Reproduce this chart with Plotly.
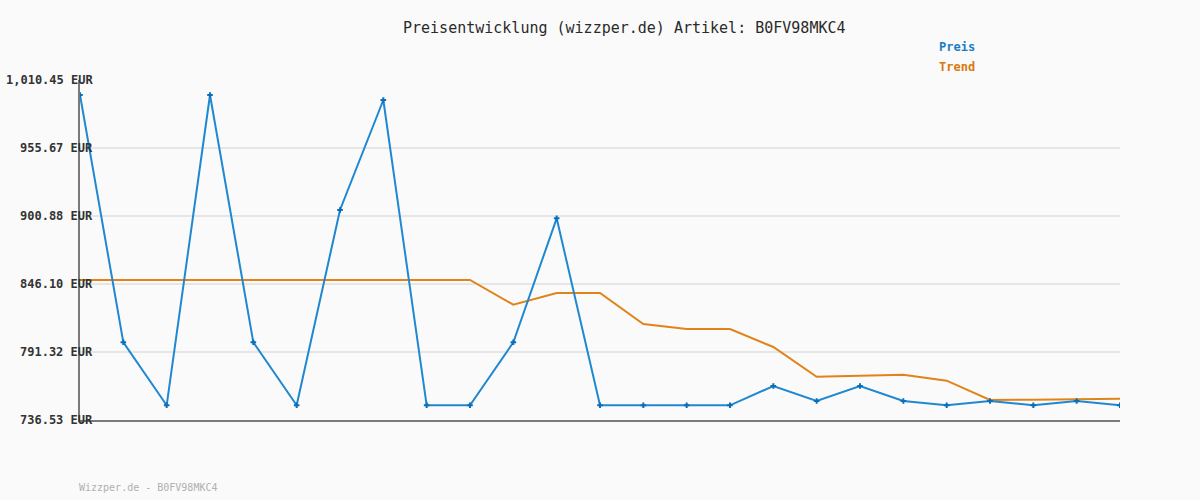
import plotly.graph_objects as go

x_idx = list(range(25))
preis = [998.37, 799.13, 748.37, 998.37, 799.13, 748.37, 905.72, 994.34, 748.37, 748.37,
         799.13, 899.03, 748.37, 748.37, 748.37, 748.37, 763.92, 751.84, 763.92, 751.84,
         748.37, 751.84, 748.37, 751.84, 748.37]
trend = [849.32, 849.32, 849.32, 849.32, 849.32, 849.32, 849.32, 849.32, 849.32, 849.32,
         829.42, 838.85, 838.85, 813.87, 809.84, 809.84, 795.34, 771.41, 772.22, 773.02,
         768.19, 752.64, 752.84, 753.30, 753.69]
tick_vals = [736.53, 791.32, 846.10, 900.88, 955.67, 1010.45]
tick_text = ["736.53 EUR", "791.32 EUR", "846.10 EUR", "900.88 EUR", "955.67 EUR", "1,010.45 EUR"]

title = "Preisentwicklung (wizzper.de) Artikel: B0FV98MKC4"
footer = "Wizzper.de - B0FV98MKC4"

mono = "DejaVu Sans Mono"
fig = go.Figure()
fig.add_trace(go.Scatter(x=x_idx, y=trend, mode="lines", name="Trend",
                         line=dict(color="#e0841a", width=2)))
fig.add_trace(go.Scatter(x=x_idx, y=preis, mode="lines+markers", name="Preis",
                         line=dict(color="#1f88d0", width=2),
                         marker=dict(symbol="cross-thin", size=4,
                                     line=dict(color="#0a6fb8", width=2))))

fig.update_layout(
    width=1200, height=500,
    margin=dict(l=80, r=80, t=80, b=80),
    paper_bgcolor="#fafafa", plot_bgcolor="#fafafa",
    showlegend=False,
    xaxis=dict(range=[0, 24], showgrid=False, showticklabels=False, ticks="",
               zeroline=False, showline=True, linecolor="#7a7a7a", linewidth=2),
    yaxis=dict(range=[736.53, 1010.45], tickvals=tick_vals, showticklabels=False,
               ticks="", showgrid=True, gridcolor="#e6e6e6", gridwidth=2,
               zeroline=False, showline=True, linecolor="#7a7a7a", linewidth=2),
)

fig.add_annotation(text=title, xref="paper", yref="paper", x=(624 - 80) / 1040, y=1 + 52 / 340,
                   xanchor="center", yanchor="middle", showarrow=False,
                   font=dict(family=mono, size=15, color="#2a2a2a"))
for tv, tt in zip(tick_vals, tick_text):
    fig.add_annotation(text="<b>" + tt + "</b>", xref="paper", yref="y", x=(95 - 80) / 1040, y=tv,
                       xanchor="right", yanchor="middle", showarrow=False,
                       font=dict(family=mono, size=12, color="#333333"))
fig.add_annotation(text="<b>Preis</b>", xref="paper", yref="paper", x=(937 - 80) / 1040, y=1 + 33 / 340,
                   xanchor="left", yanchor="middle", showarrow=False,
                   font=dict(family=mono, size=12, color="#1a7dc4"))
fig.add_annotation(text="<b>Trend</b>", xref="paper", yref="paper", x=(937 - 80) / 1040, y=1 + 13 / 340,
                   xanchor="left", yanchor="middle", showarrow=False,
                   font=dict(family=mono, size=12, color="#d9790a"))
fig.add_annotation(text=footer, xref="paper", yref="paper", x=-3 / 1040, y=-67 / 340,
                   xanchor="left", yanchor="middle", showarrow=False,
                   font=dict(family=mono, size=10, color="#b0b0b0"))

fig.write_html("out.html", config={"displayModeBar": False},
               post_script="document.body.style.margin='0';document.body.style.background='#fafafa';")
